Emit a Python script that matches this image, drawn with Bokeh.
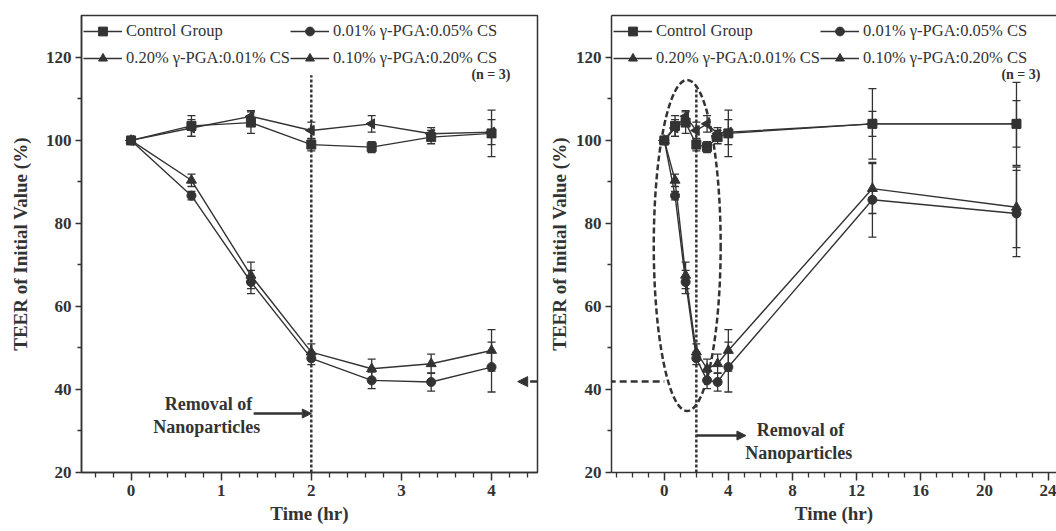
import numpy as np
from bokeh.plotting import figure
from bokeh.layouts import row
from bokeh.models import (ColumnDataSource, Whisker, TeeHead, Legend, LegendItem, Range1d,
                          FixedTicker, LinearAxis, Arrow, NormalHead, Label)
from bokeh.embed import file_html
from bokeh.resources import INLINE

# ---------------- data ----------------
time_short = [0, 0.67, 1.33, 2, 2.67, 3.33, 4]
time_late = [13, 22]

control = [100, 103.5, 104.3, 99.0, 98.4, 100.8, 101.7]
control_err = [0.6, 2.5, 2.6, 1.5, 1.3, 1.6, 5.6]
control_late = [104.0, 104.0]
control_late_err = [8.5, 10.0]

pga001 = [100, 86.7, 65.9, 47.5, 42.2, 41.8, 45.4]
pga001_err = [0.6, 1.0, 2.8, 1.5, 2.0, 2.2, 6.0]
pga001_late = [85.7, 82.4]
pga001_late_err = [9.0, 10.4]

pga020 = [100, 103.0, 105.8, 102.4, 104.0, 101.6, 102.0]
pga020_err = [0.6, 2.0, 1.4, 2.0, 2.0, 1.5, 3.0]
pga020_late = [104.0, 104.0]
pga020_late_err = [3.0, 5.6]

pga010 = [100, 90.4, 67.5, 49.0, 45.0, 46.2, 49.4]
pga010_err = [0.6, 1.5, 3.2, 2.0, 2.3, 2.3, 5.0]
pga010_late = [88.4, 83.9]
pga010_late_err = [6.0, 9.7]

series_names = ["Control Group", "0.20% \u03b3-PGA:0.01% CS",
                "0.01% \u03b3-PGA:0.05% CS", "0.10% \u03b3-PGA:0.20% CS"]
series_markers = ["square", "triangle", "circle", "triangle"]
series_angles = [0.0, np.pi / 2, 0.0, 0.0]
series_sizes = [9, 10, 9, 10]
series_short = [control, pga020, pga001, pga010]
series_short_err = [control_err, pga020_err, pga001_err, pga010_err]
series_late = [control_late, pga020_late, pga001_late, pga010_late]
series_late_err = [control_late_err, pga020_late_err, pga001_late_err, pga010_late_err]

removal_time = 2
n_label = "(n = 3)"
x_title = "Time (hr)"
y_title = "TEER of Initial Value (%)"

FONT = "Liberation Serif"
INK = "#333333"


def make_panel(times, values_list, errs_list, x_range, x_major, x_minor,
               width, border_left, border_right, y_label_standoff):
    p = figure(width=width, height=531, output_backend="svg", toolbar_location=None,
               x_range=Range1d(*x_range), y_range=Range1d(20, 130.1),
               min_border_left=border_left, min_border_right=border_right,
               min_border_top=15, min_border_bottom=59,
               background_fill_color="white", border_fill_color="white")
    p.grid.visible = False
    p.outline_line_color = INK
    p.outline_line_width = 1.5

    xa = p.xaxis[0]
    xa.ticker = FixedTicker(ticks=x_major, minor_ticks=x_minor)
    ya = p.yaxis[0]
    ya.ticker = FixedTicker(ticks=[20, 40, 60, 80, 100, 120], minor_ticks=[30, 50, 70, 90, 110])
    for ax, mj, mn in ((xa, 8, 5), (ya, 6, 4)):
        ax.axis_line_color = INK
        ax.axis_line_width = 1.5
        ax.major_tick_line_color = INK
        ax.minor_tick_line_color = INK
        ax.major_tick_line_width = 1.5
        ax.minor_tick_line_width = 1.3
        ax.major_tick_in = 0
        ax.major_tick_out = mj
        ax.minor_tick_in = 0
        ax.minor_tick_out = mn
        ax.major_label_text_font = FONT
        ax.major_label_text_font_style = "bold"
        ax.major_label_text_font_size = "17px"
        ax.major_label_text_color = INK
        ax.axis_label_text_font = FONT
        ax.axis_label_text_font_style = "bold"
        ax.axis_label_text_font_size = "19px"
        ax.axis_label_text_color = INK
    xa.axis_label = x_title
    xa.major_label_standoff = 4
    xa.axis_label_standoff = 4
    ya.axis_label = y_title
    ya.major_label_standoff = 4
    ya.axis_label_standoff = y_label_standoff

    items = []
    for name, vals, errs, mk, ang, sz in zip(series_names, values_list, errs_list,
                                              series_markers, series_angles, series_sizes):
        src = ColumnDataSource(dict(x=times, y=vals,
                                    lo=[v - e for v, e in zip(vals, errs)],
                                    hi=[v + e for v, e in zip(vals, errs)],
                                    ang=[ang] * len(times)))
        ln = p.line("x", "y", source=src, line_color=INK, line_width=1.4)
        sc = p.scatter("x", "y", source=src, marker=mk, angle="ang",
                       size=sz, fill_color=INK, line_color=INK)
        p.add_layout(Whisker(source=src, base="x", upper="hi", lower="lo",
                             line_color=INK, line_width=1.3,
                             upper_head=TeeHead(size=8, line_color=INK, line_width=1.3),
                             lower_head=TeeHead(size=8, line_color=INK, line_width=1.3)))
        items.append(LegendItem(label=name, renderers=[ln, sc]))

    legend = Legend(items=items, location="top_left", ncols=2, orientation="vertical",
                    glyph_width=39, glyph_height=22, label_standoff=4, spacing=0,
                    padding=4, margin=2, border_line_color=None, background_fill_alpha=0,
                    label_text_font=FONT, label_text_font_size="16.5px",
                    label_text_color=INK, label_height=27)
    p.add_layout(legend)
    return p


def text_label(p, x, y, txt, align="center", size="18px"):
    p.add_layout(Label(x=x, y=y, text=txt, text_align=align, text_baseline="middle",
                       text_font=FONT, text_font_style="bold", text_font_size=size,
                       text_color=INK))


# ---------------- left panel ----------------
left = make_panel(time_short, series_short, series_short_err, (-0.55, 4.51),
                  [0, 1, 2, 3, 4],
                  [-0.4, -0.2, 0.2, 0.4, 0.6, 0.8, 1.2, 1.4, 1.6, 1.8, 2.2, 2.4, 2.6, 2.8,
                   3.2, 3.4, 3.6, 3.8, 4.2, 4.4],
                  545, 81, 8, 12)
left.line([removal_time, removal_time], [20, 115.7], line_color=INK, line_width=2.5,
          line_dash="3 2")
left.add_layout(Arrow(end=NormalHead(size=9, fill_color=INK, line_color=INK),
                      x_start=1.36, y_start=34.2, x_end=removal_time, y_end=34.2,
                      line_color=INK, line_width=2.5))
text_label(left, 0.86, 36.5, "Removal of")
text_label(left, 0.84, 30.9, "Nanoparticles")
text_label(left, 4.21, 116.0, n_label, align="right", size="14px")
left.add_layout(Arrow(end=NormalHead(size=10, fill_color=INK, line_color=INK),
                      x_start=4.75, y_start=41.9, x_end=4.29, y_end=41.9,
                      line_color=INK, line_width=2.5, line_dash="7 4"))

# ---------------- right panel ----------------
times_all = time_short + time_late
vals_all = [s + l for s, l in zip(series_short, series_late)]
errs_all = [s + l for s, l in zip(series_short_err, series_late_err)]
right = make_panel(times_all, vals_all, errs_all, (-3.3, 24.5),
                   [0, 4, 8, 12, 16, 20, 24],
                   [v for v in range(-3, 25) if v % 4 != 0],
                   511, 65, 0, 3)
right.outline_line_color = None
top_axis = LinearAxis(ticker=FixedTicker(ticks=[]), major_tick_line_color=None,
                      minor_tick_line_color=None, major_label_standoff=0,
                      axis_line_color=INK, axis_line_width=1.5)
right.add_layout(top_axis, "above")
right.line([removal_time, removal_time], [20, 113.2], line_color=INK, line_width=2.5,
           line_dash="3 2")
right.ellipse(x=[1.43], y=[74.7], width=[4.18], height=[79.8], fill_color=None,
              line_color=INK, line_width=2.5, line_dash="6 3")
right.add_layout(Arrow(end=NormalHead(size=9, fill_color=INK, line_color=INK),
                       x_start=removal_time, y_start=28.9, x_end=5.1, y_end=28.9,
                       line_color=INK, line_width=2.5))
right.add_layout(Arrow(end=None, x_start=-7.6, y_start=41.9, x_end=0.0, y_end=41.9,
                       line_color=INK, line_width=2.5, line_dash="7 4"))
text_label(right, 8.5, 30.2, "Removal of")
text_label(right, 8.4, 24.6, "Nanoparticles")
text_label(right, 23.5, 116.0, n_label, align="right", size="14px")

layout = row(left, right)
open("out.html", "w").write(file_html(layout, INLINE))
